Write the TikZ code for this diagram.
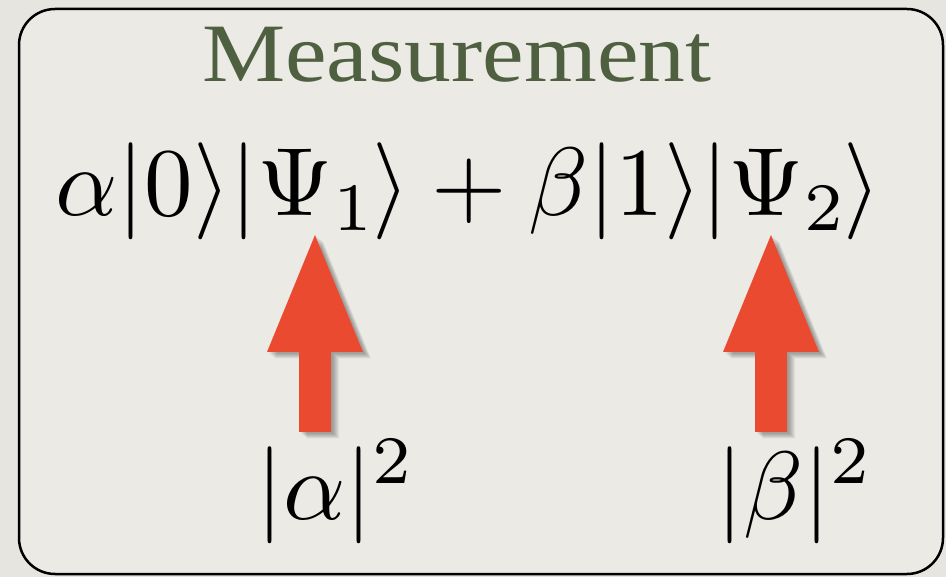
\RequirePackage{fix-cm}
\documentclass[tikz,border=0pt]{standalone}
\usepackage{fontspec}
\newfontfamily\titlefont{Liberation Serif}
\DeclareFontShape{OT1}{cmr}{m}{n}{<-80>cmr7 <80->cmr10}{}
\DeclareFontShape{OML}{cmm}{m}{it}{<-80>cmmi7 <80->cmmi10}{}
\DeclareFontShape{OMS}{cmsy}{m}{n}{<-80>cmsy7 <80->cmsy10}{}
\DeclareFontShape{OMX}{cmex}{m}{n}{<->cmex10}{}
\definecolor{bgout}{HTML}{E6E5DF}
\definecolor{bgin}{HTML}{EBEAE5}
\definecolor{titlegreen}{HTML}{4F6040}
\definecolor{arrowred}{HTML}{EA4A2F}
\tikzset{
  bigmath/.style={inner sep=0pt, font=\fontsize{97}{110}\selectfont},
  blockarrow/.style={fill=arrowred},
  arrowshadow/.style={fill=black, opacity=0.05},
}
\begin{document}
\begin{tikzpicture}[x=1pt, y=-1pt]
\useasboundingbox (0,0) rectangle (946,577);
\fill[bgout] (0,0) rectangle (946,577);
\draw[line width=2.5pt, fill=bgin, rounded corners=36pt] (19,9) rectangle (943,574);
\node[anchor=base west, inner sep=0pt, text=titlegreen, font=\titlefont\fontsize{83}{90}\selectfont, xscale=1.127] (title) at (202,82) {Measurement};
\node[bigmath, anchor=base west] (eq) at (55,216) {$\alpha|0\rangle|\Psi_1\rangle + \beta|1\rangle|\Psi_2\rangle$};
\node[bigmath, anchor=base west] (pa) at (256,519) {$|\alpha|^2$};
\node[bigmath, anchor=base west] (pb) at (716,519) {$|\beta|^2$};
% arrow shadows
\foreach \s in {2,3,...,8}{
  \fill[arrowshadow] ([shift={(\s,\s*0.8)}]299,432) -- ([shift={(\s,\s*0.8)}]299,352) -- ([shift={(\s,\s*0.8)}]267,352) -- ([shift={(\s,\s*0.8)}]315,235) -- ([shift={(\s,\s*0.8)}]363,352) -- ([shift={(\s,\s*0.8)}]331,352) -- ([shift={(\s,\s*0.8)}]331,432) -- cycle;
  \fill[arrowshadow] ([shift={(\s,\s*0.8)}]755,432) -- ([shift={(\s,\s*0.8)}]755,352) -- ([shift={(\s,\s*0.8)}]723,352) -- ([shift={(\s,\s*0.8)}]771,235) -- ([shift={(\s,\s*0.8)}]819,352) -- ([shift={(\s,\s*0.8)}]787,352) -- ([shift={(\s,\s*0.8)}]787,432) -- cycle;
}
\fill[blockarrow] (299,432) -- (299,352) -- (267,352) -- (315,235) -- (363,352) -- (331,352) -- (331,432) -- cycle;
\fill[blockarrow] (755,432) -- (755,352) -- (723,352) -- (771,235) -- (819,352) -- (787,352) -- (787,432) -- cycle;
\end{tikzpicture}
\end{document}
